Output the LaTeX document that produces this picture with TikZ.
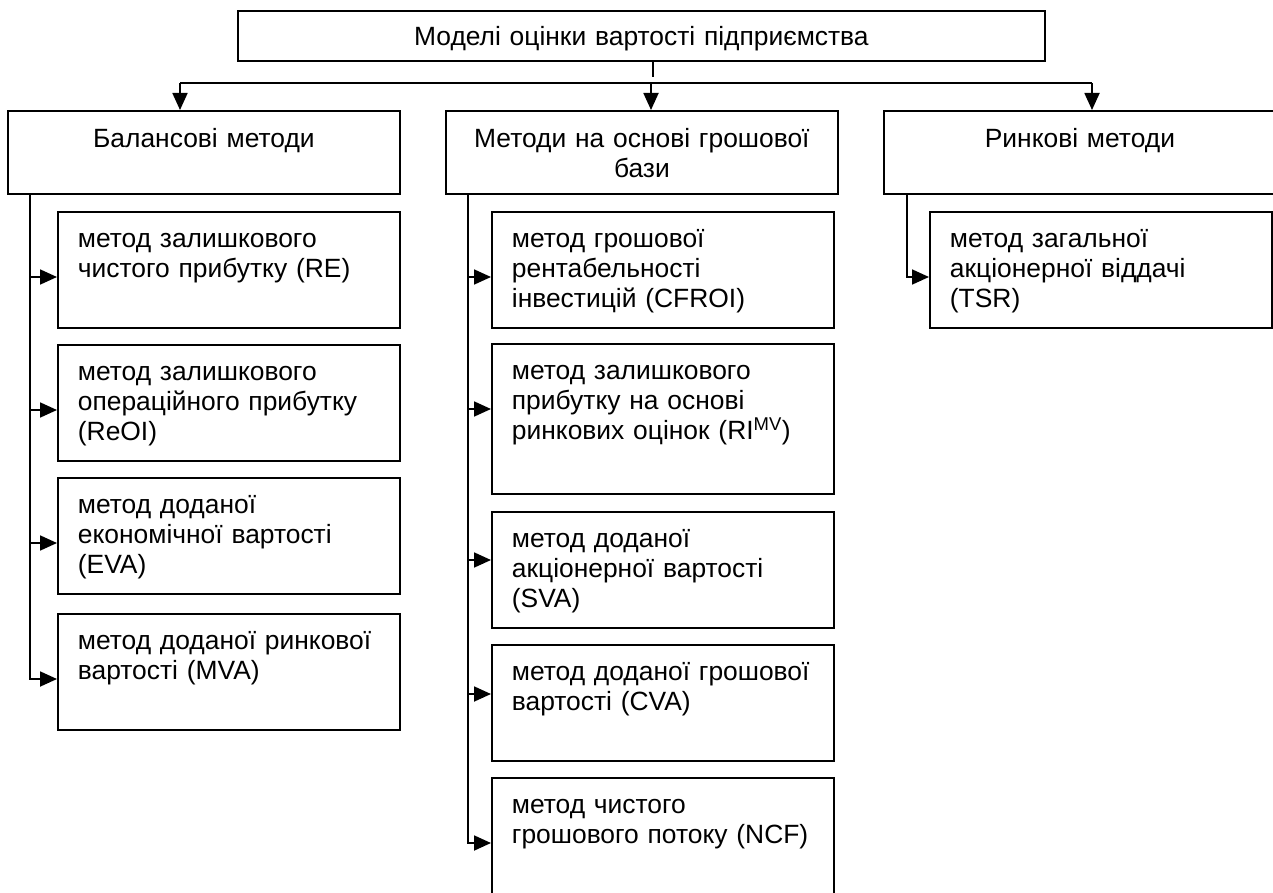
\documentclass[tikz,border=0pt]{standalone}
\usepackage{fontspec}
\setmainfont{Liberation Sans}
\usetikzlibrary{arrows.meta,calc,positioning}

\begin{document}
\begin{tikzpicture}[x=1pt,y=-1pt,>={Triangle[length=17pt,width=15pt]},
  every node/.style={font=\fontsize{26.4}{30}\selectfont},
  framed/.style={draw,line width=1.8pt,anchor=north west,inner ysep=0pt},
  rootbox/.style={framed,align=center,text width=797pt,inner xsep=5pt,
    text height=35pt,text depth=15pt},
  groupbox/.style={framed,align=center,text width=382pt,inner xsep=5pt,
    text height=37pt,text depth=46pt},
  methodbox/.style={framed,align=left,text width=302pt,inner xsep=20pt,
    text height=36pt,text depth=#1},
  methodbox/.default=80pt,
  link/.style={line width=1.8pt}]
  \useasboundingbox (0,0) rectangle (1273,893);

  \node[rootbox] (models) at (237,10) {Моделі оцінки вартості підприємства};

  \node[groupbox] (balance) at (7,110) {Балансові методи};
  \node[groupbox] (cash) at (445,110) {Методи на основі грошової\\бази};
  \node[groupbox] (market) at (883,110) {Ринкові методи};

  % balance methods
  \node[methodbox] (re) at (57,211) {метод залишкового\\чистого прибутку (RE)};
  \node[methodbox] (reoi) at (57,344) {метод залишкового\\операційного прибутку\\(ReOI)};
  \node[methodbox] (eva) at (57,477) {метод доданої\\економічної вартості\\(EVA)};
  \node[methodbox] (mva) at (57,613) {метод доданої ринкової\\вартості (MVA)};

  % cash based methods
  \node[methodbox] (cfroi) at (491,211) {метод грошової\\рентабельності\\інвестицій (CFROI)};
  \node[methodbox=114pt] (rimv) at (491,343)
    {метод залишкового\\прибутку на основі\\ринкових оцінок (RI\textsuperscript{MV})};
  \node[methodbox] (sva) at (491,511) {метод доданої\\акціонерної вартості\\(SVA)};
  \node[methodbox] (cva) at (491,644) {метод доданої грошової\\вартості (CVA)};
  \node[methodbox=90pt] (ncf) at (491,777) {метод чистого\\грошового потоку (NCF)};

  % market methods
  \node[methodbox] (tsr) at (929,211) {метод загальної\\акціонерної віддачі\\(TSR)};

  % top bus
  \coordinate (stub) at (653,77);
  \coordinate (bus left) at (180,83);
  \coordinate (bus mid) at (651,83);
  \coordinate (bus right) at (1092,83);
  \draw[link] (models.south -| stub) -- (stub);
  \draw[link] (bus left) -- (bus right);
  \draw[link,->] (bus left) -- (balance.north -| bus left);
  \draw[link,->] (bus mid) -- (cash.north -| bus mid);
  \draw[link,->] (bus right) -- (market.north -| bus right);

  % column trunks
  \coordinate (balance trunk) at ($(balance.south west)+(23,0)$);
  \coordinate (cash trunk) at ($(cash.south west)+(23,0)$);
  \coordinate (market trunk) at ($(market.south west)+(24,0)$);

  \foreach \m/\d in {re/66,reoi/66,eva/66} {
    \coordinate (\m in) at ($(\m.north west)+(0,\d)$);
    \draw[link,->] (balance trunk |- \m in) -- (\m in);
  }
  \coordinate (mva in) at ($(mva.north west)+(0,66)$);
  \draw[link,->] (balance trunk) |- (mva in);

  \foreach \m/\d in {cfroi/66,rimv/66,sva/49,cva/50} {
    \coordinate (\m in) at ($(\m.north west)+(0,\d)$);
    \draw[link,->] (cash trunk |- \m in) -- (\m in);
  }
  \coordinate (ncf in) at ($(ncf.north west)+(0,66)$);
  \draw[link,->] (cash trunk) |- (ncf in);

  \coordinate (tsr in) at ($(tsr.north west)+(0,66)$);
  \draw[link,->] (market trunk) |- (tsr in);
\end{tikzpicture}
\end{document}
